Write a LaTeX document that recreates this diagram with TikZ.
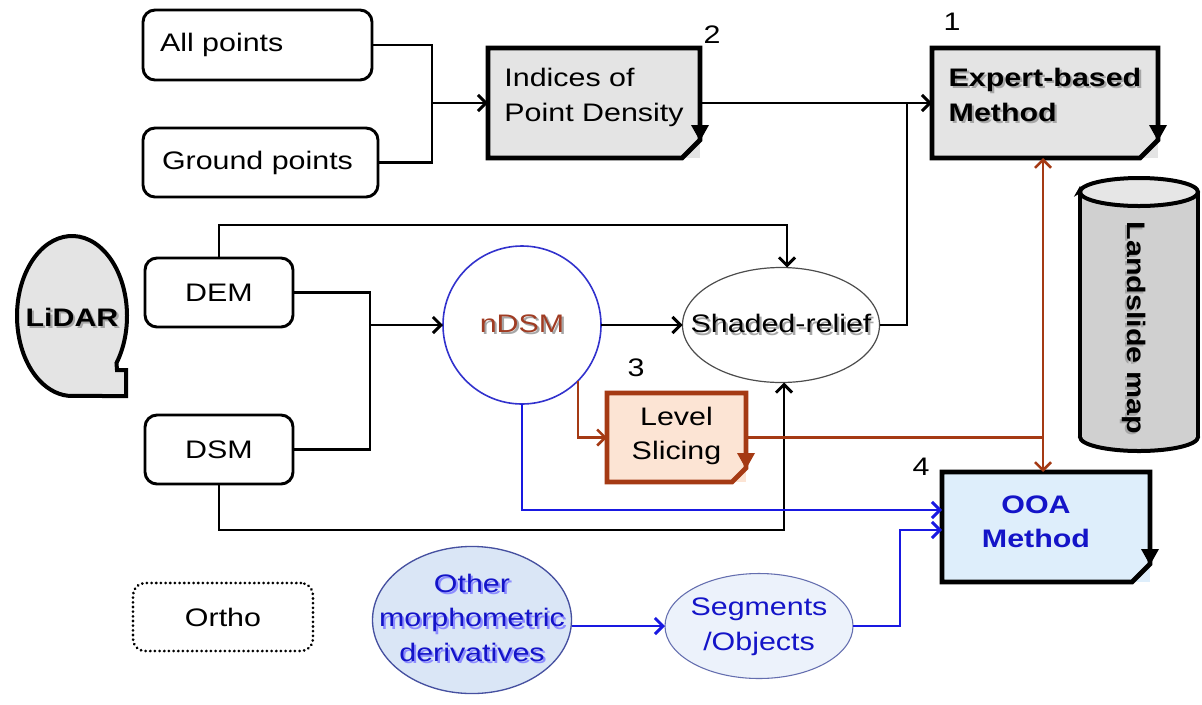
\documentclass[tikz,border=0pt]{standalone}
\usepackage{fontspec}
\setmainfont{Liberation Sans}[FakeStretch=1.2]
\usetikzlibrary{arrows.meta,shapes.geometric,calc}

\definecolor{boxgray}{RGB}{228,228,228}
\definecolor{rust}{RGB}{165,58,20}
\definecolor{peach}{RGB}{252,228,212}
\definecolor{ooafill}{RGB}{222,238,251}
\definecolor{linkblue}{RGB}{25,25,225}
\definecolor{textblue}{RGB}{20,20,200}
\definecolor{ringblue}{RGB}{50,50,205}
\definecolor{otherfill}{RGB}{218,230,246}
\definecolor{otherline}{RGB}{70,80,160}
\definecolor{segfill}{RGB}{236,242,251}
\definecolor{segline}{RGB}{100,110,175}
\definecolor{cylbody}{RGB}{208,208,208}
\definecolor{cyltop}{RGB}{230,230,230}
\definecolor{ndsmtext}{RGB}{160,60,35}

% text with a soft drop shadow
\newcommand\shd[2][black!35]{\makebox[0pt][l]{\hspace{1.6pt}\raisebox{-1.6pt}{\textcolor{#1}{#2}}}#2}
% lift a text block inside its box by giving it extra depth
\newcommand\lift[2]{\raisebox{0pt}[\height][\dimexpr\depth+#1\relax]{#2}}

% outline of a document box with a folded lower right corner
\newcommand\docoutline[3]{%
  \draw[line width=3.6pt,#2,line join=miter]
    (#1.north west) -- (#1.north east) -- ($(#1.south east)+(0,-#3)$)
    -- ($(#1.south east)+(-#3,0)$) -- (#1.south west) -- cycle;
  \fill[#2] ($(#1.south east)+(-9,-#3-15)$) -- ($(#1.south east)+(9,-#3-15)$)
    -- ($(#1.south east)+(0,-#3+1)$) -- cycle;
  \fill[#2] ($(#1.south east)+(-#3+1,-1)$) -- ($(#1.south east)+(-#3+6,-#3+9)$)
    -- ($(#1.south east)+(-2,-#3+2)$) -- ($(#1.south east)+(-#3+8,-5)$) -- cycle;
}

\tikzset{
  base/.style={font=\fontsize{19}{26}\selectfont, inner sep=0pt, outer sep=0pt},
  boldbase/.style={base, font=\fontsize{19}{26}\selectfont\bfseries},
  roundbox/.style={base, draw, line width=2.2pt, rounded corners=9pt, fill=white},
  plain/.style={line width=2.2pt},
  link/.style={line width=2.2pt, -{Straight Barb[length=6pt,width=12pt]}},
  tag/.style={base},
}

\begin{document}
\begin{tikzpicture}[x=0.75pt,y=-0.75pt]
\fill[white] (0,0) rectangle (1202,704);
\useasboundingbox (0,0) rectangle (1202,704);

% ---- sources ----
\node[roundbox, minimum width=171.75pt, minimum height=52.5pt,
      inner xsep=12.75pt, text width=146.25pt, align=left]
  (allp) at (257.5,45) {All points};
\node[roundbox, minimum width=176.25pt, minimum height=51.75pt,
      inner xsep=14.25pt, text width=147.75pt, align=left]
  (ground) at (260.5,162.5) {Ground points};
\node[roundbox, minimum width=111pt, minimum height=51.75pt] (dem) at (219,292.5) {DEM};
\node[roundbox, minimum width=111pt, minimum height=51.75pt] (dsm) at (219,449.5) {DSM};
\node[base, draw, line width=2.2pt, rounded corners=9pt,
      dash pattern=on 0.1pt off 3.4pt, line cap=round,
      minimum width=135pt, minimum height=51pt] (ortho) at (223,617) {Ortho};

% ---- LiDAR callout ----
\draw[line width=3pt, fill=boxgray]
  (116.5,363) arc[start angle=36, end angle=-270, x radius=55, y radius=80]
  -- (126,396) -- (126,370) -- (117,370) -- cycle;
\node[boldbase] (lidar) at (72,318) {\shd{LiDAR}};

% ---- document boxes ----
\node[base, fill=boxgray, minimum width=159pt, minimum height=82.5pt]
  (indices) at (594,103)
  {\lift{9pt}{\begin{tabular}{@{}l@{}}Indices of\\Point Density\end{tabular}}};
\docoutline{indices}{black}{18}
\node[tag] (n2) at (712,35) {2};

\node[boldbase, fill=boxgray, minimum width=169.5pt, minimum height=82.5pt]
  (expert) at (1045,103)
  {\lift{9pt}{\begin{tabular}{@{}l@{}}\shd{Expert-based}\\\shd{Method}\end{tabular}}};
\docoutline{expert}{black}{18}
\node[tag] (n1) at (952,22) {1};

\node[base, fill=peach, minimum width=104.25pt, minimum height=66.75pt]
  (level) at (676.5,437.5)
  {\lift{3pt}{\begin{tabular}{@{}c@{}}Level\\Slicing\end{tabular}}};
\docoutline{level}{rust}{14}
\node[tag] (n3) at (636,368) {3};

\node[boldbase, fill=ooafill, minimum width=156pt, minimum height=82.5pt, text=textblue]
  (ooa) at (1046,527)
  {\makebox[0pt]{\hspace*{-15pt}\lift{5pt}{\begin{tabular}{@{}c@{}}OOA\\Method\end{tabular}}}};
\docoutline{ooa}{black}{18}
\node[tag] (n4) at (921,467) {4};

% ---- round products ----
\node[base, circle, draw=ringblue, line width=1.2pt, fill=white, minimum size=118.5pt,
      text=ndsmtext] (ndsm) at (522,325) {\shd{nDSM}};
\node[base, ellipse, draw=black!70, line width=0.9pt, fill=white,
      minimum width=147.75pt, minimum height=86.25pt]
  (shaded) at (781,325) {\makebox[0pt]{\shd{Shaded-relief}}};
\node[base, ellipse, draw=otherline, line width=1pt, fill=otherfill,
      minimum width=149.25pt, minimum height=93pt, text=textblue]
  (other) at (472,620)
  {\makebox[0pt]{\begin{tabular}{@{}c@{}}\shd[blue!45]{Other}\\\shd[blue!45]{morphometric}\\\shd[blue!45]{derivatives}\end{tabular}}};
\node[base, ellipse, draw=segline, line width=0.8pt, fill=segfill,
      minimum width=141pt, minimum height=78.75pt, text=textblue]
  (segments) at (759,626)
  {\makebox[0pt]{\begin{tabular}{@{}c@{}}Segments\\/Objects\end{tabular}}};

% ---- landslide map cylinder ----
\filldraw[fill=cylbody, line width=3pt] (1139,437) ellipse[x radius=59, y radius=14];
\fill[cylbody] (1080,192) rectangle (1198,437);
\draw[line width=3pt] (1198,192) -- (1198,437);
\draw[line width=3pt, -{Stealth[length=8pt,width=9pt]}] (1080,437) -- (1080,186);
\filldraw[fill=cyltop, line width=3pt] (1139,192) ellipse[x radius=59, y radius=14];
\node[boldbase, rotate=-90] (mapname) at (1133,328) {\shd{Landslide map}};

% ---- black connectors ----
\coordinate (jpts) at (432,103);
\draw[plain] (allp.east) -| (jpts);
\draw[plain] (ground.east) -| (jpts);
\draw[link] (jpts) -- (indices.west);
\draw[link] (indices.east) -- (expert.west);
\coordinate (jrel) at (907,103);
\draw[plain] (shaded.east) -| (jrel);

\coordinate (demtop) at (787,225);
\draw[link] (dem.north) |- (demtop) -- (demtop |- shaded.north);
\coordinate (jdem) at (370,325);
\draw[plain] (dem.east) -| (jdem);
\draw[plain] (dsm.east) -| (jdem);
\draw[link] (jdem) -- (ndsm.west);
\coordinate (dsmbot) at (784,530);
\draw[link] (dsm.south) |- (dsmbot) -- (dsmbot |- shaded.south);
\draw[link] (ndsm.east) -- (shaded.west);

% ---- level slicing connectors ----
\coordinate (jlvl) at (1043,437.5);
\draw[link, rust, line width=1.9pt] (ndsm.-45) |- (level.west);
\draw[plain, rust, line width=1.9pt] (level.east) -- (jlvl);
\draw[link, rust, line width=1.9pt] (jlvl) -- (jlvl |- expert.south);
\draw[link, rust, line width=1.9pt] (jlvl) -- (jlvl |- ooa.north);

% ---- OOA inputs ----
\coordinate (ooain1) at ($(ooa.west)+(0,-17)$);
\coordinate (ooain2) at ($(ooa.west)+(0,3)$);
\coordinate (segbend) at ($(ooain2)+(-42,0)$);
\draw[link, linkblue] (ndsm.south) |- (ooain1);
\draw[link, linkblue] (other.east |- segments.west) -- (segments.west);
\draw[link, linkblue] (segments.east) -| (segbend) -- (ooain2);

\end{tikzpicture}
\end{document}
